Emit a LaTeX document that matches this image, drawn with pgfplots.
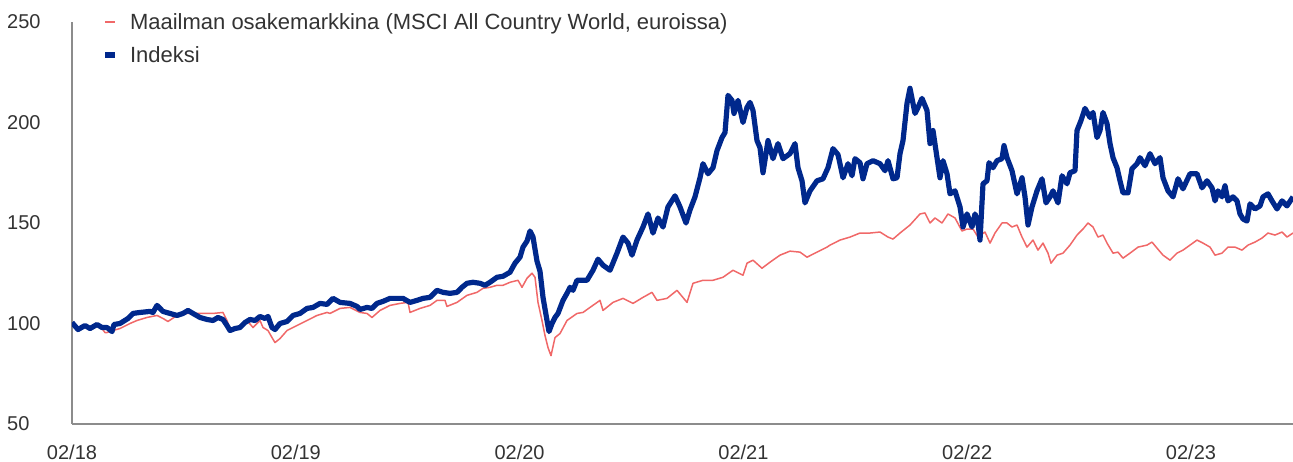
\documentclass[border=0pt]{standalone}
\usepackage{fontspec}
\setmainfont{Liberation Sans}
\usepackage{pgfplots}
\pgfplotsset{compat=1.18}
\definecolor{myred}{HTML}{F06868}
\definecolor{myblue}{HTML}{00288C}
\definecolor{axgray}{HTML}{8C8C8C}
\definecolor{txt}{HTML}{333333}
\begin{document}
\begin{tikzpicture}
\begin{axis}[name=ax,
 scale only axis, width=1221pt, height=402pt,
 xmin=72, xmax=1293, ymin=50, ymax=250,
 axis lines=left, axis line style={-, draw=axgray, line width=1.1pt},
 xtick={72,295.8,519.6,743.4,967.2,1191},
 xticklabels={02/18,02/19,02/20,02/21,02/22,02/23},
 ytick={50,100,150,200,250},
 major tick length=0pt,
 tick label style={font=\fontsize{20}{24}\selectfont, text=txt},
 /pgf/number format/assume math mode=true,
 yticklabel style={anchor=west, xshift=-65pt, inner sep=0pt},
 xticklabel style={anchor=center, yshift=-28pt, inner sep=0pt},
 legend style={at={(0.0248,0.959)}, anchor=west, draw=none, fill=none, inner sep=0pt,
   font=\fontsize{22}{26}\selectfont, text=txt, row sep=17pt, column sep=0pt,
   nodes={inner sep=0pt, text height=16pt, text depth=0pt}},
 legend cell align=left,
 legend image code/.code={\draw[#1, line cap=butt] (0pt,0pt) -- (10pt,0pt); \path[draw=none, fill=none] (0pt,-1pt) rectangle (25pt,1pt);},
]
\addplot[myred, line width=1.5pt, line join=round] coordinates {
(72,100) (78,97.5) (85,99) (90,98) (97,99) (102,97.5) (105,95.5) (107,95.5) (113,96.5) (120,97.5)
(130,100) (137,101.5) (147,103) (157,104) (163,102.5) (168,101) (177,104) (187,105) (197,105) (203,105)
(213,105) (223,105.5) (227,101.5) (230,97.5) (237,98) (247,101.5) (253,98) (260,101.5) (263,98) (268,96.5)
(272,93) (275,90.5) (280,92.5) (287,96.5) (297,99) (307,101.5) (317,104) (327,105.5) (330,105) (340,107.5)
(350,108) (360,105.5) (367,105) (372,103) (380,106.5) (390,109) (400,110) (408,110.5) (410,105.5) (420,107.5)
(430,109) (437,111.5) (445,111.5) (447,108.5) (457,110.5) (467,114) (477,115.5) (483,117.5) (490,118) (497,119)
(503,119) (510,120.5) (518,121.5) (522,118) (527,122.5) (532,125) (535,123) (538,110.5) (542,101.5) (545,94)
(548,88) (551,84) (555,93) (560,95) (567,101.5) (577,105) (583,105.5) (590,108) (600,111.5) (603,106.5)
(613,110.5) (623,112.5) (633,110) (643,113) (652,115.5) (657,111.5) (667,112.5) (677,116.5) (687,110.5) (693,120)
(703,121.5) (713,121.5) (723,123) (733,126.5) (743,124) (747,130) (753,131.5) (762,127.5) (770,130.5) (780,134)
(790,136) (800,135.5) (807,133) (817,135.5) (827,138) (830,139) (840,141.5) (850,143) (860,145) (870,145)
(880,145.5) (888,143) (893,142) (900,145) (910,149) (920,154.5) (925,155) (930,150) (935,152.5) (942,150)
(948,154.5) (955,152.5) (962,146) (967,147) (973,147) (978,143) (985,145.5) (990,140) (995,145) (1002,150)
(1007,150) (1012,148) (1017,149) (1022,143) (1027,138) (1033,141.5) (1038,136.5) (1043,140) (1048,135) (1051,130)
(1057,134) (1063,135) (1070,139) (1077,144) (1083,147) (1088,150) (1093,148) (1098,143) (1103,144) (1107,140)
(1113,135) (1118,135.5) (1123,132.5) (1130,135) (1138,138) (1147,139) (1152,140.5) (1157,137.5) (1163,134) (1170,131.5)
(1177,135) (1183,136.5) (1190,139) (1197,141.5) (1203,140) (1210,138) (1215,134) (1222,135) (1228,138) (1235,138)
(1242,136.5) (1248,139) (1255,140.5) (1262,142.5) (1268,145) (1275,144) (1282,145.5) (1287,143) (1293,145)
};
\addlegendentry{Maailman osakemarkkina (MSCI All Country World, euroissa)}
\addplot[myblue, line width=5.2pt, line join=round] coordinates {
(72,100.5) (78,97) (85,99) (90,97.5) (97,99.5) (102,98) (107,98) (112,96) (114,99.5) (120,100)
(128,102.5) (133,105) (140,105.5) (150,106) (153,105.5) (157,109) (163,106) (170,105) (177,104) (183,105)
(188,106.5) (193,105) (200,103) (207,102) (213,101.5) (218,103) (223,102) (227,99) (230,96.5) (235,97.5)
(240,98) (245,100.5) (250,102) (255,101.5) (260,103.5) (265,102.5) (268,103.5) (272,98) (275,97) (280,100)
(287,101) (293,104) (300,105) (307,107.5) (313,108) (320,110) (327,109.5) (333,112.5) (340,110.5) (350,110)
(357,108.5) (360,107) (367,108) (372,107.5) (377,110) (383,111) (390,112.5) (397,112.5) (403,112.5) (410,110.5)
(417,111.5) (423,112.5) (430,113) (437,116.5) (443,115.5) (450,115) (457,115.5) (462,118) (467,120) (473,120.5)
(480,120) (485,119) (490,120.5) (497,123) (503,123.5) (510,125.5) (515,130) (520,133) (523,138) (527,141)
(530,146) (533,143) (537,131) (540,126) (543,113) (547,101.5) (549,96) (552,100) (555,103) (558,105)
(563,111.5) (567,115) (570,118) (573,116.5) (577,121.5) (587,121.5) (593,126.5) (598,132) (603,129) (610,126.5)
(617,135) (623,143) (628,140) (632,134) (637,141.5) (643,148) (648,154.5) (653,145) (658,152.5) (663,148)
(668,158) (675,163.5) (680,158) (686,150) (690,156.5) (695,163) (700,172.5) (703,179.5) (708,174.5) (713,177.5)
(717,186) (722,192.5) (725,195) (728,213.5) (732,211) (734,204.5) (738,211) (743,200) (747,207.5) (750,210)
(753,206) (757,191) (760,187.5) (763,175) (768,191) (773,182) (778,189.5) (783,182) (790,184.5) (795,189.5)
(798,177.5) (802,171) (805,160) (810,166) (817,171) (823,172) (828,177.5) (833,187) (838,184) (843,172.5)
(848,179.5) (852,173.5) (855,182) (860,180) (863,172) (867,179.5) (873,181) (880,179.5) (885,176) (888,181)
(893,172) (897,172.5) (900,184.5) (903,191) (907,209.5) (910,217) (915,204.5) (918,207.5) (922,212) (927,206)
(930,189.5) (933,196) (937,182.5) (940,172.5) (943,181) (947,174.5) (950,164.5) (955,166) (960,158) (963,148)
(967,154.5) (972,148) (975,154.5) (978,150) (980,141.5) (983,169.5) (987,171) (989,180) (993,177.5) (997,181)
(1002,182) (1004,188.5) (1007,182.5) (1012,176) (1017,164.5) (1022,172.5) (1025,163) (1028,149) (1032,158) (1037,166)
(1042,172) (1046,160) (1050,163) (1053,166) (1058,160) (1062,173.5) (1067,169.5) (1070,175) (1075,176) (1077,196)
(1081,201) (1085,207) (1090,202.5) (1093,205) (1097,192.5) (1100,196) (1103,205) (1107,199.5) (1110,189.5) (1113,182.5)
(1117,177.5) (1120,171) (1123,165) (1128,165) (1132,177) (1137,179.5) (1140,182.5) (1145,178.5) (1150,184.5) (1155,179.5)
(1160,182.5) (1163,172.5) (1168,166) (1173,163) (1178,172) (1183,167) (1190,174.5) (1197,174.5) (1202,167.5) (1207,171)
(1212,167.5) (1215,161) (1218,166) (1222,163) (1225,168.5) (1228,161) (1233,163) (1237,161) (1240,154.5) (1243,152)
(1247,151) (1250,159.5) (1255,157) (1260,158.5) (1263,163) (1268,164.5) (1272,161) (1277,157) (1282,161) (1287,158.5)
(1293,163)
};
\addlegendentry{Indeksi}
\end{axis}
\pgfresetboundingbox
\path ([shift={(-72pt,-38pt)}]ax.south west) rectangle ([shift={(0pt,22pt)}]ax.north east);
\end{tikzpicture}
\end{document}
